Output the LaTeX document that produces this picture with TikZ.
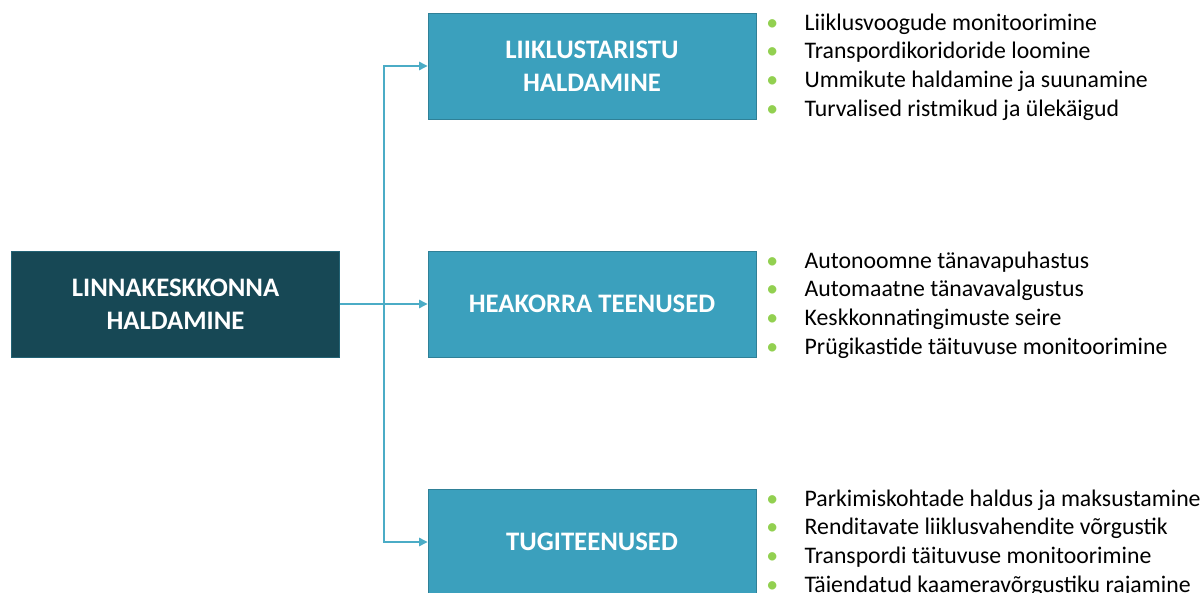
\documentclass[tikz,border=0pt]{standalone}
\usepackage{fontspec}
\setmainfont{Carlito}
\usetikzlibrary{arrows.meta, positioning}
\definecolor{teal1}{RGB}{23, 72, 85}
\definecolor{blue1}{RGB}{59, 160, 189}
\definecolor{line1}{RGB}{75, 172, 198}
\definecolor{green1}{RGB}{146, 208, 80}

\begin{document}
\begin{tikzpicture}[x=0.025cm, y=-0.025cm,
  rootbox/.style={draw=teal1!70!blue1, fill=teal1, line width=0.6pt, minimum width=8.2cm, minimum height=2.65cm,
    inner sep=0pt, align=center, text=white, font=\fontsize{19}{23.4}\selectfont\bfseries},
  catbox/.style={rootbox, draw=blue1!80!black, fill=blue1},
  link/.style={draw=line1, line width=0.9pt, -{Triangle[length=6pt, width=6pt]}},
  item/.style={anchor=base west, inner sep=0pt, font=\fontsize{16.9}{20}\selectfont}]

  \clip (0,0) rectangle (1203,592);

  % main boxes
  \node[rootbox] (linn) at (175.5, 304) {LINNAKESKKONNA\\HALDAMINE};
  \node[catbox] (liik) at (592, 66) {LIIKLUSTARISTU\\HALDAMINE};
  \node[catbox] (heak) at (592, 304) {HEAKORRA TEENUSED};
  \node[catbox] (tugi) at (592, 542) {TUGITEENUSED};

  % connectors
  \coordinate (split) at (384, 304);
  \draw[link] (linn.east) -- (heak.west);
  \draw[link] (split) |- (liik.west);
  \draw[link] (split) |- (tugi.west);

  % bullet lists
  \foreach \txt [count=\i] in {Liiklusvoogude monitoorimine, Transpordikoridoride loomine,
      Ummikute haldamine ja suunamine, Turvalised ristmikud ja ülekäigud}
    \node[item] (liik\i) at (766, 30+28.7*\i-28.7) {\makebox[0.96cm][l]{\textcolor{green1}{\textbullet}}\txt};
  \foreach \txt [count=\i] in {Autonoomne tänavapuhastus, Automaatne tänavavalgustus,
      Keskkonnatingimuste seire, Prügikastide täituvuse monitoorimine}
    \node[item] (heak\i) at (766, 268+28.7*\i-28.7) {\makebox[0.96cm][l]{\textcolor{green1}{\textbullet}}\txt};
  \foreach \txt [count=\i] in {Parkimiskohtade haldus ja maksustamine, Renditavate liiklusvahendite võrgustik,
      Transpordi täituvuse monitoorimine, Täiendatud kaameravõrgustiku rajamine}
    \node[item] (tugi\i) at (766, 506+28.7*\i-28.7) {\makebox[0.96cm][l]{\textcolor{green1}{\textbullet}}\txt};
\end{tikzpicture}
\end{document}
